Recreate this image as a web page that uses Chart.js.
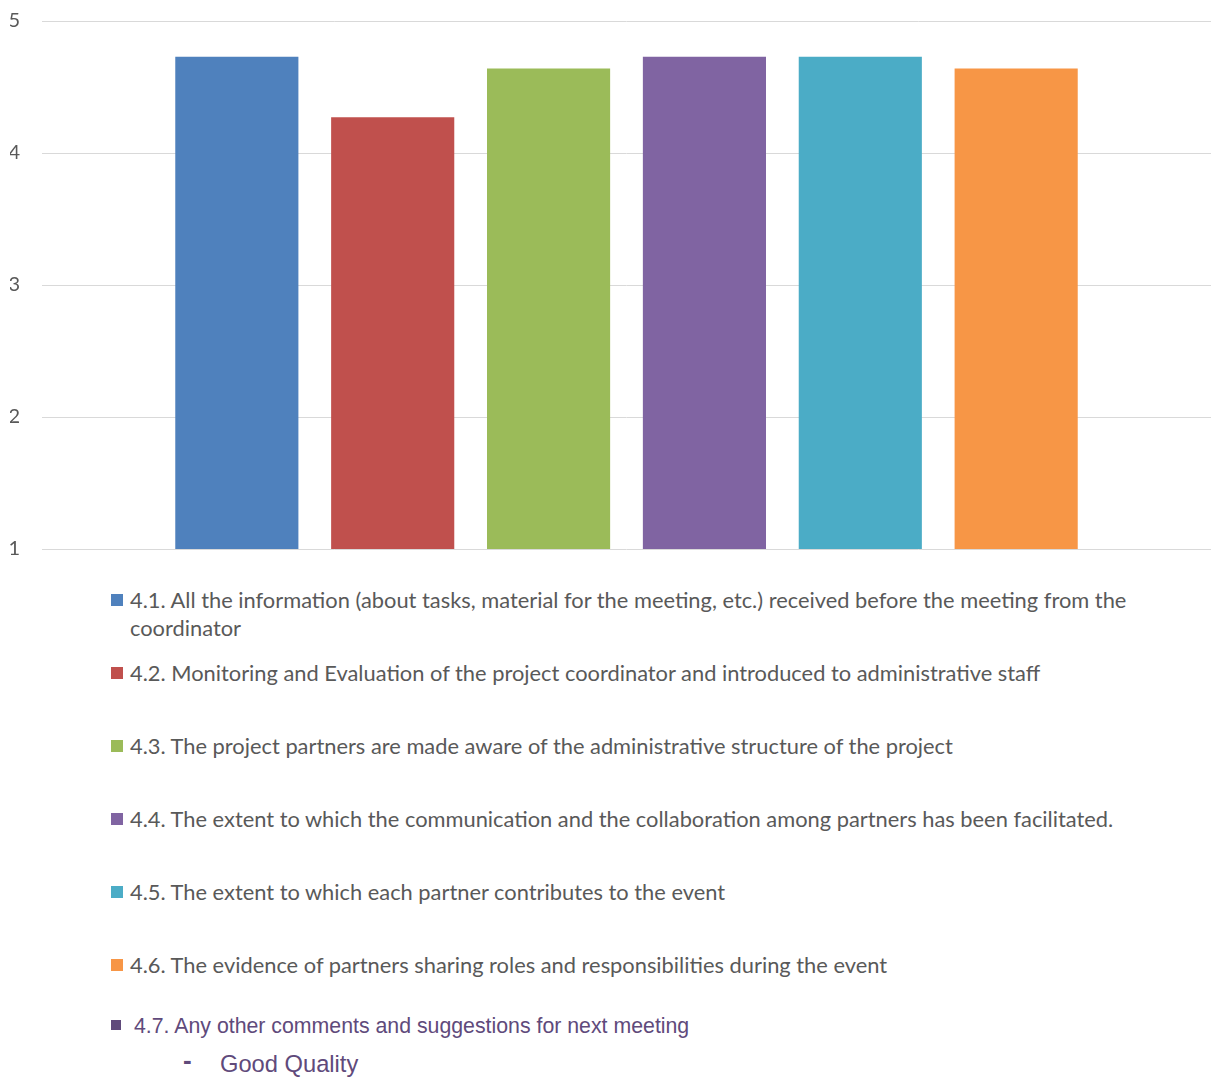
<!DOCTYPE html>
<html>
<head>
<meta charset="utf-8">
<script src="https://cdn.jsdelivr.net/npm/chart.js@4.4.0/dist/chart.umd.min.js"></script>
<style>
  body { margin: 0; background: #fff; width: 1211px; height: 1077px; overflow: hidden; position: relative; }
  #chart-container { position: absolute; left: 0; top: 0; width: 1211px; height: 560px; }
  #legend { position: absolute; left: 0; top: 586px; width: 1211px; font-family: Lato, "Open Sans", sans-serif; font-size: 21.85px; color: #595959; }
  /* every entry gets the same slot; a wrapped label just runs into the gap */
  .item { position: relative; padding-left: 130px; width: 1040px; height: 73px; line-height: 28px; }
  .item .box { position: absolute; left: 111px; top: 8px; width: 12px; height: 12px; }
  #note { position: absolute; left: 0; top: 1012px; font-family: "Liberation Sans", Arial, sans-serif; color: #604a7b; }
  #note .line1 { position: relative; padding-left: 134px; font-size: 21.3px; line-height: 28px; }
  #note .line1 .box { position: absolute; left: 111px; top: 8px; width: 10px; height: 10px; background: #604a7b; }
  #note .line2 { position: relative; padding-left: 220px; font-size: 23.7px; line-height: 30px; margin-top: 9px; }
  #note .line2 .dash { position: absolute; left: 183px; top: -4px; font-size: 26px; font-weight: bold; }
</style>
</head>
<body>
<div id="chart-container"><canvas id="chart"></canvas></div>
<div id="legend"></div>
<div id="note">
  <div class="line1"><span class="box"></span>4.7. Any other comments and suggestions for next meeting</div>
  <div class="line2"><span class="dash">-</span>Good Quality</div>
</div>
<script>
// questions (one series each, as in the original clustered column)
const questions = [
  '4.1. All the information (about tasks, material for the meeting, etc.) received before the meeting from the coordinator',
  '4.2. Monitoring and Evaluation of the project coordinator and introduced to administrative staff',
  '4.3. The project partners are made aware of the administrative structure of the project',
  '4.4. The extent to which the communication and the collaboration among partners has been facilitated.',
  '4.5. The extent to which each partner contributes to the event',
  '4.6. The evidence of partners sharing roles and responsibilities during the event'
];
// average scores
const scores = [4.73, 4.27, 4.64, 4.73, 4.73, 4.64];
const colors = ['#4f81bd', '#c0504d', '#9bbb59', '#8064a2', '#4bacc6', '#f79646'];
const yTicks = [1, 2, 3, 4, 5];

const ctx = document.getElementById('chart').getContext('2d');
const chart = new Chart(ctx, {
    type: 'bar',
    data: {
        labels: [''],
        datasets: questions.map((q, i) => ({
            label: q,
            data: [scores[i]],
            backgroundColor: colors[i],
            categoryPercentage: 0.8,
            barPercentage: 0.79
        }))
    },
    options: {
        responsive: true,
        maintainAspectRatio: false,
        animation: false,
        layout: { padding: { left: 10, right: 0, top: 21, bottom: 11 } },
        plugins: {
            legend: { display: false },
            tooltip: { enabled: false }
        },
        scales: {
            x: { display: false },
            y: {
                min: 1,
                max: 5,
                afterBuildTicks: function(axis) {
                    axis.ticks = yTicks.map(v => ({ value: v }));
                },
                // fixed axis width, no extra room above/below for labels
                afterFit: function(axis) {
                    axis.width = 32;
                    axis.paddingTop = 0;
                    axis.paddingBottom = 0;
                },
                border: { display: false },
                grid: { color: '#d9d9d9', lineWidth: 1, drawTicks: false },
                ticks: {
                    padding: 22,
                    color: '#595959',
                    font: { family: 'Lato', size: 20 }
                }
            }
        }
    }
});

// legend below the chart, built from the datasets
const legend = document.getElementById('legend');
chart.data.datasets.forEach(ds => {
    const div = document.createElement('div');
    div.className = 'item';
    const box = document.createElement('span');
    box.className = 'box';
    box.style.background = ds.backgroundColor;
    div.appendChild(box);
    div.appendChild(document.createTextNode(ds.label));
    legend.appendChild(div);
});
</script>
</body>
</html>
